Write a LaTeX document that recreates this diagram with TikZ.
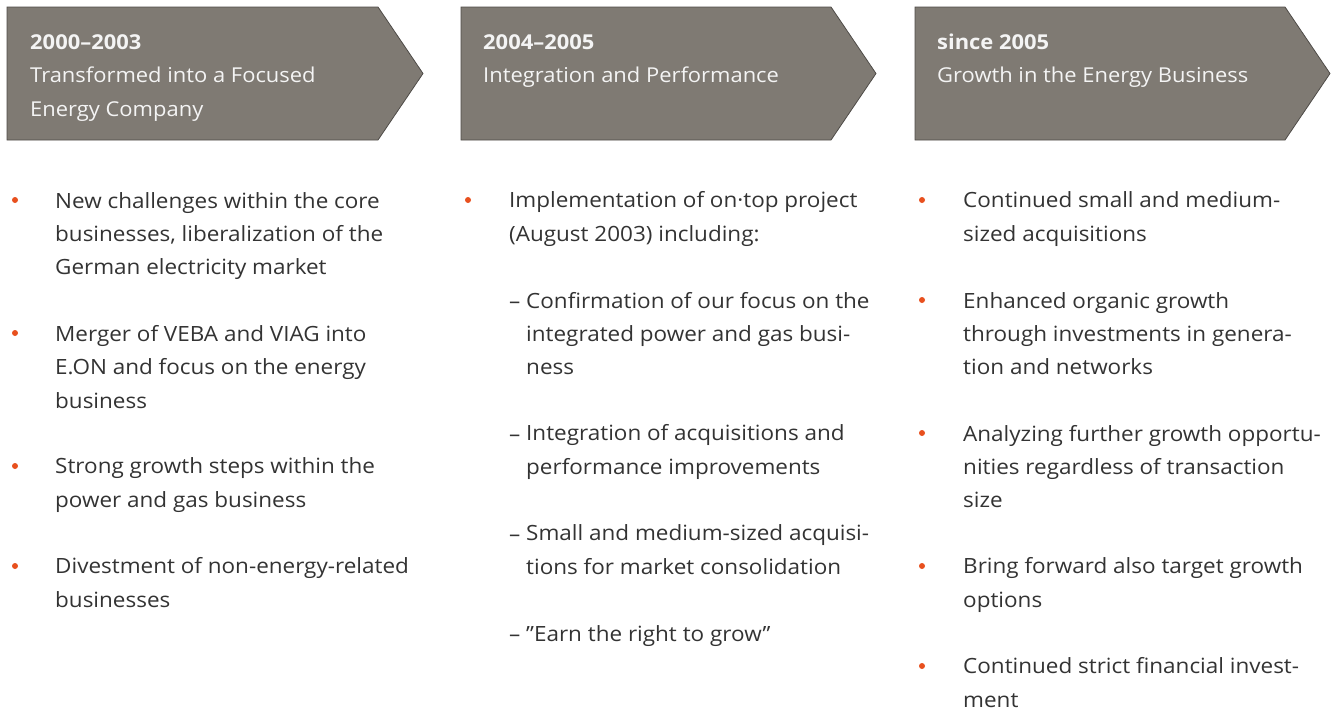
\documentclass[tikz,border=0pt]{standalone}
\usepackage{fontspec}
\setmainfont{Open Sans}[FakeStretch=1.07]
\definecolor{boxfill}{HTML}{7F7A73}
\definecolor{boxline}{HTML}{4E4B47}
\definecolor{bodytext}{HTML}{333333}
\definecolor{dotcol}{HTML}{E8501E}
\definecolor{headtext}{HTML}{F4F4F4}
\begin{document}
\begin{tikzpicture}[x=1pt,y=-1pt,
  phase/.style={draw=boxline,fill=boxfill,line width=0.8pt},
  headtxt/.style={anchor=base west,align=left,inner sep=0pt,text=headtext,font={\fontsize{20.5pt}{33.5pt}\selectfont}},
  bodytxt/.style={anchor=base west,align=left,inner sep=0pt,text=bodytext,font={\fontsize{21pt}{33.33pt}\selectfont}},
  dotmark/.style={circle,fill=dotcol,inner sep=0pt,minimum size=6pt}]
\useasboundingbox (0,0) rectangle (1336,710);
% phase arrows (base anchor = last line)
\draw[phase] (7,7) -- (378,7) -- (423,73.5) -- (378,140) -- (7,140) -- cycle;
\draw[phase] (461,7) -- (831,7) -- (876,73.5) -- (831,140) -- (461,140) -- cycle;
\draw[phase] (915,7) -- (1285,7) -- (1330,73.5) -- (1285,140) -- (915,140) -- cycle;
\node[headtxt] (h1) at (30,116) {\textbf{2000–2003}\\Transformed into a Focused\\Energy Company};
\node[headtxt] (h2) at (483,82.5) {\textbf{2004–2005}\\Integration and Performance};
\node[headtxt] (h3) at (937,82.5) {\textbf{since 2005}\\Growth in the Energy Business};
% column 1
\node[dotmark] (d11) at (15,200) {};
\node[bodytxt] (t11) at (55,274.7) {New challenges within the core\\businesses, liberalization of the\\German electricity market};
\node[dotmark] (d12) at (15,333) {};
\node[bodytxt] (t12) at (55,408) {Merger of VEBA and VIAG into\\E.ON and focus on the energy\\business};
\node[dotmark] (d13) at (15,466) {};
\node[bodytxt] (t13) at (55,507.3) {Strong growth steps within the\\power and gas business};
\node[dotmark] (d14) at (15,566) {};
\node[bodytxt] (t14) at (55,607.3) {Divestment of non-energy-related\\businesses};
% column 2
\node[dotmark] (d21) at (468,200) {};
\node[bodytxt] (t21) at (509,241.3) {Implementation of on·top project\\(August 2003) including:};
\node[bodytxt] (s21d) at (509,308) {–};
\node[bodytxt] (s21) at (526,374.7) {Confirmation of our focus on the\\integrated power and gas busi-\\ness};
\node[bodytxt] (s22d) at (509,441) {–};
\node[bodytxt] (s22) at (526,474.3) {Integration of acquisitions and\\performance improvements};
\node[bodytxt] (s23d) at (509,541) {–};
\node[bodytxt] (s23) at (526,574.3) {Small and medium-sized acquisi-\\tions for market consolidation};
\node[bodytxt] (s24d) at (509,641) {–};
\node[bodytxt] (s24) at (526,641) {”Earn the right to grow”};
% column 3
\node[dotmark] (d31) at (922,200) {};
\node[bodytxt] (t31) at (963,241.3) {Continued small and medium-\\sized acquisitions};
\node[dotmark] (d32) at (922,300) {};
\node[bodytxt] (t32) at (963,374.7) {Enhanced organic growth\\through investments in genera-\\tion and networks};
\node[dotmark] (d33) at (922,433) {};
\node[bodytxt] (t33) at (963,507.7) {Analyzing further growth opportu-\\nities regardless of transaction\\size};
\node[dotmark] (d34) at (922,566) {};
\node[bodytxt] (t34) at (963,607.3) {Bring forward also target growth\\options};
\node[dotmark] (d35) at (922,666) {};
\node[bodytxt] (t35) at (963,707.3) {Continued strict financial invest-\\ment};
\end{tikzpicture}
\end{document}
